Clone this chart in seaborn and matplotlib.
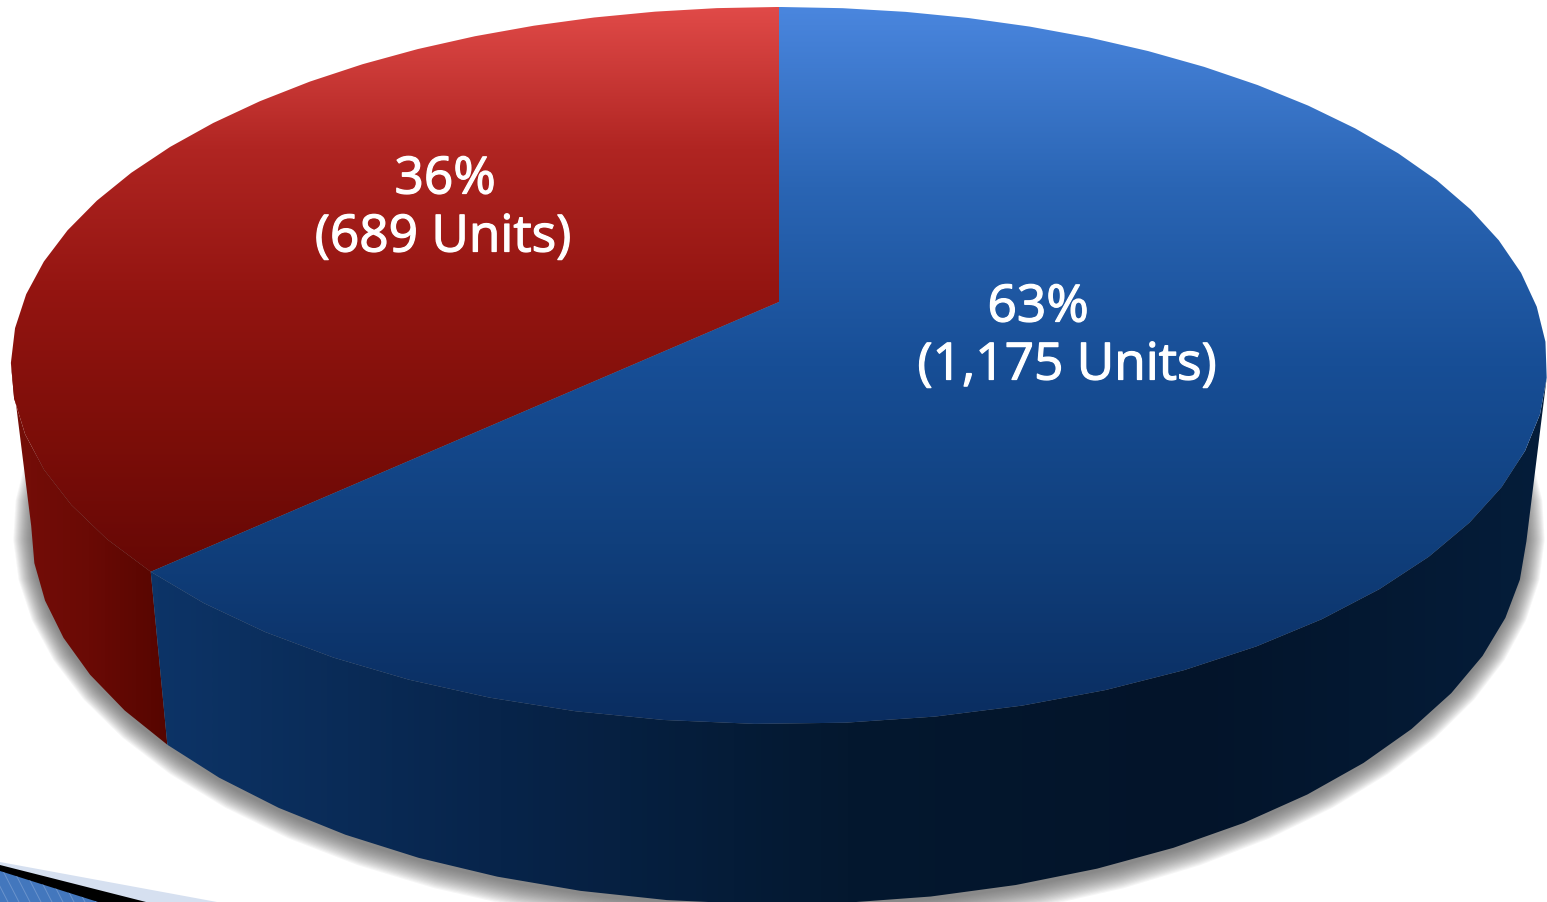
import numpy as np
import matplotlib.pyplot as plt
import seaborn as sns
import matplotlib.patheffects as pe
from matplotlib.patches import Polygon

# data
segments = ['red', 'blue']
units = [689, 1175]
unit_labels = ['689 Units', '1,175 Units']
percents = [36, 63]

sns.set_theme(style='white')
plt.rcParams['font.family'] = ['Open Sans', 'DejaVu Sans']

# colour ramps, top to bottom / left to right
blue_top = sns.blend_palette(['#4a86de', '#2a65b4', '#174e96', '#103f7c', '#0a2d60'], as_cmap=True)
red_top = sns.blend_palette(['#e04a48', '#b02522', '#941511', '#7d0e09', '#660805'], as_cmap=True)
blue_wall = sns.blend_palette(['#0d3467', '#07244a', '#04182f', '#03142a', '#051d3a'], as_cmap=True)
red_wall = sns.blend_palette(['#760e08', '#6a0a05', '#560500'], as_cmap=True)


# tilted disc with perspective, theta counted counter clockwise from the top
def rim(theta, cy, a, b, k=0.1771):
    u = -np.sin(theta)
    v = np.cos(theta)
    d = 1 + k * v
    return np.column_stack([779 + a * u / d, cy - b * v / d])


def top_disc(theta):
    return rim(theta, 303, 756, 347.3)


def low_disc(theta):
    return rim(theta, 463, 736, 364)


# the rim of the original is visibly faceted, so steps stay coarse
def steps(t0, t1, per_turn=64):
    n = max(int(round(abs(t1 - t0) / (2 * np.pi) * per_turn)), 1)
    return np.linspace(t0, t1, n + 1)


def fill(ax, pts, cmap, vertical, start, stop, z):
    if vertical:
        grad = np.linspace(0, 1, 256).reshape(-1, 1)
        extent = (0, 1547, stop, start)
    else:
        grad = np.linspace(0, 1, 256).reshape(1, -1)
        extent = (start, stop, 903, 0)
    im = ax.imshow(grad, cmap=cmap, extent=extent, aspect='auto', zorder=z, interpolation='bilinear')
    patch = Polygon(pts, closed=True, transform=ax.transData, fc='none', ec='none')
    ax.add_patch(patch)
    im.set_clip_path(patch)


fig = plt.figure(figsize=(15.47, 9.03), dpi=100)
ax = fig.add_axes([0, 0, 1, 1])

split = 2 * np.pi * units[0] / sum(units)
edge = np.arccos(-0.1771)
t_all = steps(0, 2 * np.pi)
t_red = steps(0, split)
t_blue = steps(split, 2 * np.pi)

# soft shadow under the pie
low = low_disc(t_all)
for off in np.linspace(18, 0, 19):
    sx = (low[:, 0] - 779) * (1 + off / 748) + 779
    sy = (low[:, 1] - 530) * (1 + off / 300) + 530 + 4
    ax.add_patch(Polygon(np.column_stack([sx, sy]), closed=True, fc='#555555', ec='none',
                         alpha=0.055, zorder=1))

# side walls, same rim vertices as the top faces so no gap opens between them
w_red = t_red[t_red >= edge - 0.05]
w_blue = t_blue[t_blue <= 2 * np.pi - edge + 0.05]
fill(ax, np.vstack([top_disc(w_red), low_disc(w_red[::-1])]), red_wall, False, 11, 167, 2)
fill(ax, np.vstack([top_disc(w_blue), low_disc(w_blue[::-1])]), blue_wall, False, 150, 1547, 2)

# top faces
apex = [[779, 303]]
fill(ax, np.vstack([apex, top_disc(t_red)]), red_top, True, 8, 573, 3)
fill(ax, np.vstack([apex, top_disc(t_blue)]), blue_top, True, 8, 725, 3)

# labels
fat = [pe.withStroke(linewidth=0.9, foreground='white')]
for x, y, s in [(445, 181, f'{percents[0]}%'), (443, 239, f'({unit_labels[0]})'),
                (1038, 309, f'{percents[1]}%'), (1067, 367, f'({unit_labels[1]})')]:
    ax.text(x, y, s, color='white', fontsize=37, ha='center', va='center', zorder=5, path_effects=fat)

# corner of the slide decoration
ax.add_patch(Polygon([[0, 863], [217, 903], [0, 903]], fc='#d6e0f0', ec='none', zorder=1))
ax.add_patch(Polygon([[0, 866], [146, 903], [0, 903]], fc='black', ec='none', zorder=1))
corner = Polygon([[0, 872], [98, 903], [0, 903]], fc='#4377bd', ec='none', zorder=1)
ax.add_patch(corner)
for x0 in range(-20, 100, 11):
    line, = ax.plot([x0, x0 + 18], [870, 905], color='#6a93cc', lw=0.7, zorder=1)
    line.set_clip_path(corner)

ax.set_xlim(0, 1547)
ax.set_ylim(903, 0)
ax.axis('off')
fig.savefig('out.png', dpi=100)
